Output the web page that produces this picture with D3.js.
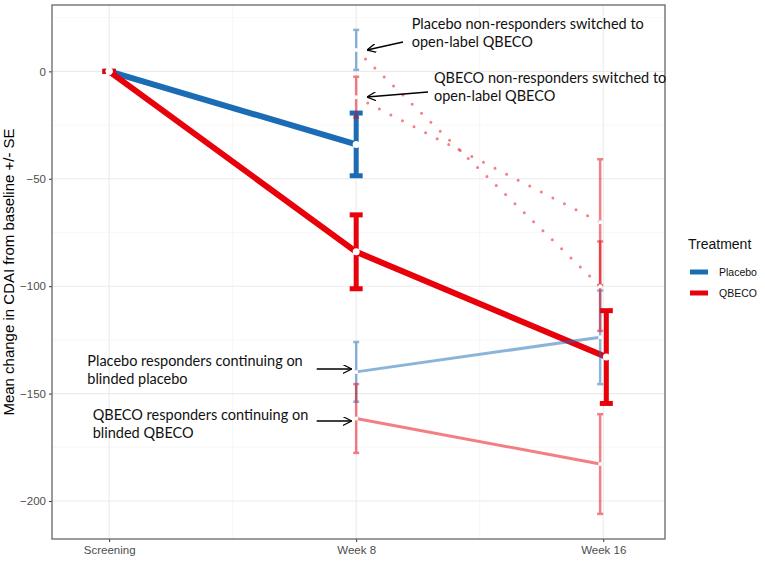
<!DOCTYPE html>
<meta charset="utf-8">
<style>
  body { margin: 0; padding: 0; background: #fff; }
  svg text { font-family: "Liberation Sans", Arial, sans-serif; }
  .note { font-family: Lato, "Open Sans", sans-serif; font-size: 14.5px; fill: #111; }
</style>
<body>
<script src="https://d3js.org/d3.v7.min.js"></script>
<script>

// x values in weeks, with their labels
var weeks = [0, 8, 16];
var weekLabels = ["Screening", "Week 8", "Week 16"];
var yTicks = [-200, -150, -100, -50, 0];

var treatments = ["Placebo", "QBECO"];
var colors = ["#1b6cb4", "#e8000b"];

// whole arms: mean change and SE
var placeboWeeks = [0, 8];
var placeboMean = [0, -34];
var placeboSE = [0, 14.6];
var qbecoWeeks = [0, 8, 16];
var qbecoMean = [0, -84, -133];
var qbecoSE = [0, 17.2, 21.6];

// subgroups from week 8 to week 16
var subWeeks = [8, 16];
var placeboRespMean = [-139.9, -123.8];
var placeboRespSE = [13.9, 21.8];
var qbecoRespMean = [-161.6, -182.8];
var qbecoRespSE = [16, 23.2];
var placeboNonRespMean = [10, -100];
var placeboNonRespSE = [9.3, 20.8];
var qbecoNonRespMean = [-12, -70.2];
var qbecoNonRespSE = [9.5, 29.3];

var W = 765, H = 562;
var panel = {left: 52, right: 665, top: 5, bottom: 539};

var svg = d3.select("body").append("svg")
    .attr("width", W)
    .attr("height", H);

var x = d3.scaleLinear().domain([-1.85, 18]).range([panel.left, panel.right]);
var y = d3.scaleLinear().domain([-217.7, 30.9]).range([panel.bottom, panel.top]);

// grid
var g = svg.append("g");
g.selectAll(".minorY").data(d3.range(-200, 30, 25).filter(v => v % 50 != 0))
  .enter().append("line")
    .attr("x1", panel.left).attr("x2", panel.right)
    .attr("y1", d => y(d)).attr("y2", d => y(d))
    .attr("stroke", "#f2f2f2").attr("stroke-width", 0.6);
g.selectAll(".minorX").data([4, 12])
  .enter().append("line")
    .attr("y1", panel.top).attr("y2", panel.bottom)
    .attr("x1", d => x(d)).attr("x2", d => x(d))
    .attr("stroke", "#f2f2f2").attr("stroke-width", 0.6);
g.selectAll(".majorY").data(yTicks)
  .enter().append("line")
    .attr("x1", panel.left).attr("x2", panel.right)
    .attr("y1", d => y(d)).attr("y2", d => y(d))
    .attr("stroke", "#ebebeb").attr("stroke-width", 1.1);
g.selectAll(".majorX").data(weeks)
  .enter().append("line")
    .attr("y1", panel.top).attr("y2", panel.bottom)
    .attr("x1", d => x(d)).attr("x2", d => x(d))
    .attr("stroke", "#ebebeb").attr("stroke-width", 1.1);

// axes
var yAxis = d3.axisLeft(y).tickValues(yTicks).tickSize(3).tickPadding(3);
var xAxis = d3.axisBottom(x).tickValues(weeks).tickSize(3).tickPadding(4)
    .tickFormat((d, i) => weekLabels[i]);

svg.append("g").attr("transform", "translate(" + panel.left + ",0)").call(yAxis)
  .call(a => a.select(".domain").remove())
  .call(a => a.selectAll("line").attr("stroke", "#333"))
  .call(a => a.selectAll("text").attr("fill", "#4d4d4d").attr("font-size", 11.5));
svg.append("g").attr("transform", "translate(0," + panel.bottom + ")").call(xAxis)
  .call(a => a.select(".domain").remove())
  .call(a => a.selectAll("line").attr("stroke", "#333"))
  .call(a => a.selectAll("text").attr("fill", "#4d4d4d").attr("font-size", 11.5));

svg.append("text")
    .attr("transform", "translate(14," + ((panel.top + panel.bottom) / 2) + ") rotate(-90)")
    .attr("text-anchor", "middle")
    .attr("font-size", 15)
    .text("Mean change in CDAI from baseline +/- SE");

function zip(ws, m, se, dx) {
  return ws.map((w, i) => ({x: w + (w == 16 ? dx : 0), m: m[i], se: se[i]}));
}

function drawSeries(pts, color, opts) {
  var layer = svg.append("g").attr("opacity", opts.opacity);
  if (!opts.noLine) {
    var line = d3.line().x(d => x(d.x)).y(d => y(d.m));
    layer.append("path")
        .attr("d", line(pts))
        .attr("fill", "none")
        .attr("stroke", color)
        .attr("stroke-width", opts.lw)
        .attr("stroke-dasharray", opts.dash || null)
        .attr("stroke-linecap", opts.dash ? "round" : "butt");
  }
  var bars = layer.selectAll(".eb").data(pts.filter(opts.barFilter || (() => true)))
    .enter().append("g");
  bars.append("line")
      .attr("x1", d => x(d.x)).attr("x2", d => x(d.x))
      .attr("y1", d => y(d.m + d.se)).attr("y2", d => y(d.m - d.se))
      .attr("stroke", color).attr("stroke-width", opts.bw);
  [1, -1].forEach(s => {
    bars.append("line")
        .attr("x1", d => x(d.x) - opts.cap).attr("x2", d => x(d.x) + opts.cap)
        .attr("y1", d => y(d.m + s * d.se)).attr("y2", d => y(d.m + s * d.se))
        .attr("stroke", color).attr("stroke-width", opts.bw);
  });
}

function drawPoints(pts, r) {
  svg.append("g").selectAll("circle").data(pts)
    .enter().append("circle")
      .attr("cx", d => x(d.x)).attr("cy", d => y(d.m))
      .attr("r", r).attr("fill", "#fff");
}

var pMain = zip(placeboWeeks, placeboMean, placeboSE, 0.1);
var qMain = zip(qbecoWeeks, qbecoMean, qbecoSE, 0.1);
var pResp = zip(subWeeks, placeboRespMean, placeboRespSE, -0.1);
var qResp = zip(subWeeks, qbecoRespMean, qbecoRespSE, -0.1);
var pNon = zip(subWeeks, placeboNonRespMean, placeboNonRespSE, -0.1);
var qNon = zip(subWeeks, qbecoNonRespMean, qbecoNonRespSE, -0.1);

// whole arms
drawSeries(pMain, colors[0], {opacity: 1, lw: 6, bw: 5, cap: 6.5});
drawSeries(qMain, colors[1], {opacity: 1, lw: 6, bw: 5, cap: 6.5});

// subgroups, faded
var light = {opacity: 0.5, lw: 3, bw: 2.5, cap: 3};
drawSeries(pResp, colors[0], light);
drawSeries(qResp, colors[1], light);
// placebo non-responders: blue bar at week 8, then on QBECO (dotted red)
drawSeries(pNon, colors[0], Object.assign({}, light, {noLine: true, barFilter: d => d.x < 12}));
drawSeries(pNon, colors[1], Object.assign({}, light, {dash: "0 13", barFilter: d => d.x > 12}));
drawSeries(qNon, colors[1], Object.assign({}, light, {dash: "0 13"}));

drawPoints(pMain.concat(qMain), 3.5);
drawPoints(pResp.concat(qResp, pNon, qNon), 2);

// panel border
svg.append("rect")
    .attr("x", panel.left).attr("y", panel.top)
    .attr("width", panel.right - panel.left).attr("height", panel.bottom - panel.top)
    .attr("fill", "none").attr("stroke", "#666").attr("stroke-width", 1.3);

// annotations
svg.append("defs").append("marker")
    .attr("id", "arr").attr("viewBox", "0 0 10 10")
    .attr("refX", 10).attr("refY", 5)
    .attr("markerWidth", 9).attr("markerHeight", 9)
    .attr("markerUnits", "userSpaceOnUse")
    .attr("orient", "auto")
  .append("path")
    .attr("d", "M0,0 L10,5 L0,10")
    .attr("fill", "none").attr("stroke", "#000").attr("stroke-width", 1.4);

var notes = [
  {lines: ["Placebo non-responders switched to", "open-label QBECO"], tx: 411.7, ty: 29.3, a: [403, 42, 367, 50]},
  {lines: ["QBECO non-responders switched to", "open-label QBECO"], tx: 434, ty: 83.3, a: [428, 92, 367, 97]},
  {lines: ["Placebo responders continuing on", "blinded placebo"], tx: 87.3, ty: 365.7, a: [316.7, 369, 351.7, 369]},
  {lines: ["QBECO responders continuing on", "blinded QBECO"], tx: 92.7, ty: 420, a: [316.7, 421, 351.7, 421]}
];
notes.forEach(n => {
  var t = svg.append("text").attr("class", "note");
  n.lines.forEach((s, i) => {
    t.append("tspan").attr("x", n.tx).attr("y", n.ty + i * 18).text(s);
  });
  svg.append("line")
      .attr("x1", n.a[0]).attr("y1", n.a[1]).attr("x2", n.a[2]).attr("y2", n.a[3])
      .attr("stroke", "#000").attr("stroke-width", 1.4)
      .attr("marker-end", "url(#arr)");
});

// legend
var lg = svg.append("g").attr("transform", "translate(688,0)");
lg.append("text").attr("x", 0).attr("y", 249).attr("font-size", 14).attr("fill", "#111").text("Treatment");
treatments.forEach((t, i) => {
  var yy = 272 + i * 21;
  lg.append("line").attr("x1", 2).attr("x2", 20).attr("y1", yy).attr("y2", yy)
    .attr("stroke", colors[i]).attr("stroke-width", 5);
  lg.append("text").attr("x", 31).attr("y", yy + 4).attr("font-size", 10.5).attr("fill", "#111").text(t);
});

</script>
